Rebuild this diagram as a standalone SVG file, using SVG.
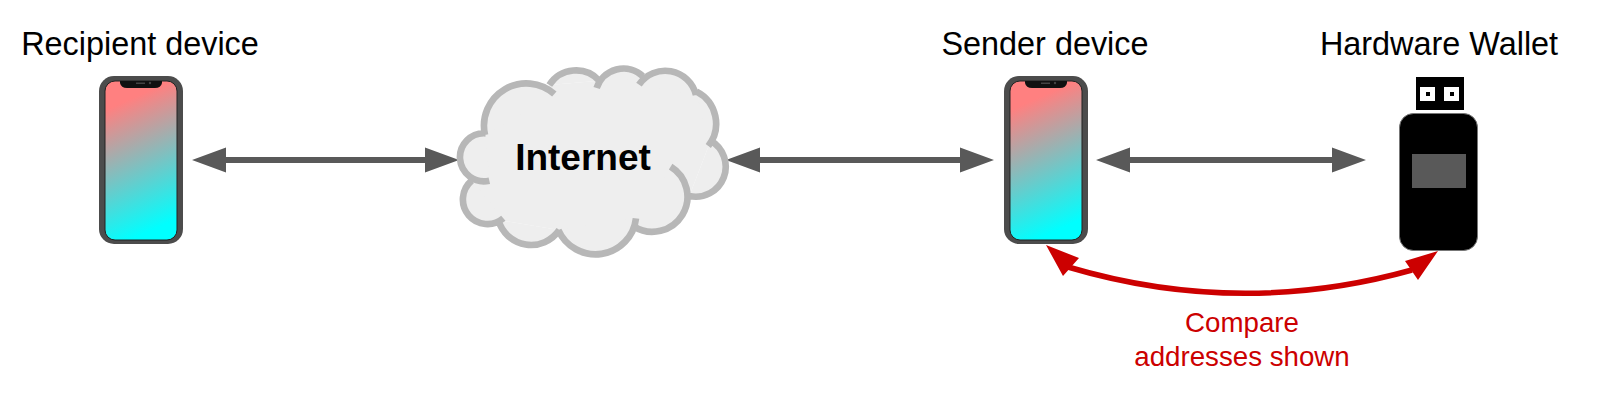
<svg xmlns="http://www.w3.org/2000/svg" width="1600" height="414" viewBox="0 0 1600 414">
<style>
text{font-family:"Liberation Sans",Arial,sans-serif;text-anchor:middle}
.lbl{font-size:32.4px;fill:#000}
.red{font-size:27.7px;fill:#c00}
.arrow{stroke:#595959;stroke-width:6;fill:none}
.head{fill:#595959}
.cl{fill:none;stroke:#b7b7b7;stroke-width:20;stroke-linecap:butt}
.cf{fill:#eee;stroke:none}
</style>
<defs>
<linearGradient id="scr" x1="0.4" y1="0" x2="0.6" y2="1"><stop offset="0.1" stop-color="#ff8080"/><stop offset="0.95" stop-color="#0ff"/></linearGradient>
<g id="phone">
<rect x="99" y="76" width="84" height="168" rx="15" fill="#4c4c4c"/>
<rect x="105" y="81" width="72" height="159" rx="10" fill="url(#scr)" stroke="#222" stroke-width="1"/>
<path d="M120 81h42v2q-1 5-7 5h-28q-6 0-7-5z" fill="#111"/>
<rect x="136" y="82.500" width="9" height="1.500" fill="#444"/>
<circle cx="150" cy="83" r="1.200" fill="#444"/>
</g>
<path id="lobes" d="M137 250A72 72 0 1 0 148 392M95 392A68 68 0 0 0 190 505M175 510A102 102 0 0 0 358 540M355 540A122 122 0 0 0 588 505M582 530A105 105 0 1 0 692 350M748 438A90 90 0 0 0 812 272M805 288A108 108 0 0 0 770 125M768 135A95 95 0 0 0 597 104M608 78A85 85 0 0 0 470 114M478 92A95 95 0 0 0 328 105M343 132A127 127 0 0 0 135 255"/>
</defs>
<g id="connectors">
<g id="c1"><path class="arrow" d="M205 160H445"/><path class="head" d="M192 160L226 147.500V172.500ZM459 160L425 147.500V172.500Z"/></g>
<g id="c2"><path class="arrow" d="M740 160H980"/><path class="head" d="M726 160L760 147.500V172.500ZM994 160L960 147.500V172.500Z"/></g>
<g id="c3"><path class="arrow" d="M1110 160H1352"/><path class="head" d="M1096 160L1130 147.500V172.500ZM1366 160L1332 147.500V172.500Z"/></g>
<g id="c4"><path d="M1068 267Q1240 318 1412 270" fill="none" stroke="#c00" stroke-width="5.500"/><path d="M1046 245L1079 258L1063 276ZM1438 251L1405 261L1418 280Z" fill="#c00"/></g>
</g>
<g id="recipient"><use href="#phone"/><text class="lbl" x="140" y="55">Recipient device</text></g>
<g id="internet">
<g transform="translate(440 50) scale(0.3333)">
<path class="cf" d="M137 250L95 392L175 510L358 540L585 525L748 438L812 272L770 125L608 78L478 92L328 105L135 255Z"/>
<use href="#lobes" class="cf"/>
<use href="#lobes" class="cl"/>
</g>
<text x="583" y="170" font-size="37" font-weight="700" fill="#000">Internet</text>
</g>
<g id="sender"><use href="#phone" x="905"/><text class="lbl" x="1045" y="55">Sender device</text></g>
<g id="wallet">
<rect x="1416" y="77" width="48" height="33" fill="#000"/>
<rect x="1420" y="87" width="15" height="14" fill="#fff"/><rect x="1444" y="87" width="15" height="14" fill="#fff"/>
<rect x="1426" y="92" width="4" height="4" fill="#000"/><rect x="1450" y="92" width="4" height="4" fill="#000"/>
<rect x="1399.500" y="113.500" width="78" height="137" rx="14" fill="#000" stroke="#777" stroke-width="1"/>
<rect x="1412" y="154" width="54" height="34" fill="#595959"/>
<text class="lbl" x="1439" y="55">Hardware Wallet</text>
</g>
<g id="compare"><text class="red" x="1242" y="332">Compare</text><text class="red" x="1242" y="366">addresses shown</text></g>
</svg>
